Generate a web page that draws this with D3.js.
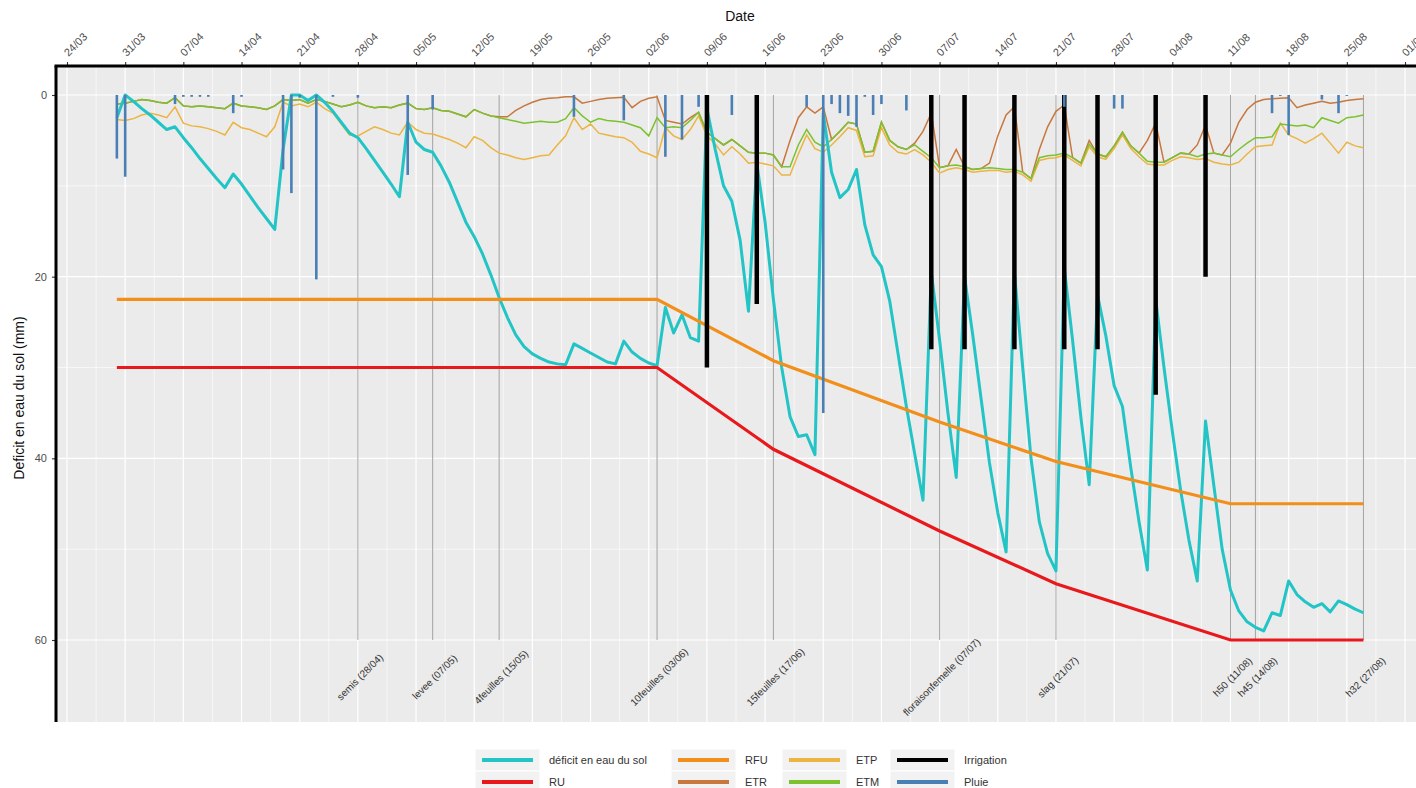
<!DOCTYPE html>
<html>
<head>
<meta charset="utf-8">
<script src="https://cdn.jsdelivr.net/npm/d3@7"></script>
<style>
  body { margin: 0; background: #fff; overflow: hidden; }
  svg { display: block; font-family: "Liberation Sans", Arial, sans-serif; }
</style>
</head>
<body>
<svg id="chart" width="1416" height="788"></svg>
<script>
// daily series start on this day (one value per day)
const firstDay = "30/03";

const deficit = [
  2.5, 0, 0.7, 1.5, 2.2, 3.0, 3.8, 3.5, 4.7, 5.8,
  7.0, 8.1, 9.2, 10.2, 8.7, 9.8, 11.1, 12.4, 13.6, 14.8,
  6.0, 0, 0, 0.6, 0, 0.8, 1.8, 3.0, 4.2, 4.7,
  5.9, 7.2, 8.5, 9.8, 11.2, 3.0, 5.2, 6.0, 6.3, 7.8,
  9.6, 11.8, 14.0, 15.6, 17.5, 19.8, 22.3, 24.5, 26.4, 27.7,
  28.5, 29.0, 29.4, 29.6, 29.7, 27.4, 27.9, 28.4, 28.9, 29.4,
  29.6, 27.1, 28.3, 29.0, 29.5, 29.8, 23.4, 26.2, 24.2, 26.7,
  27.1, 1.5, 6.0, 10.0, 11.7, 16.0, 23.8, 7.5, 14.0, 22.5,
  30.0, 35.4, 37.6, 37.4, 39.6, 2.0, 8.5, 11.3, 10.4, 8.2,
  14.3, 17.6, 18.9, 22.7, 28.5, 34.3, 39.5, 44.6, 19.5, 27.0,
  35.0, 42.1, 20.0, 26.5, 33.5, 40.5, 46.0, 50.3, 19.5, 30.0,
  40.0, 47.0, 50.5, 52.4, 19.0, 27.0, 35.5, 42.9, 22.0, 26.5,
  32.0, 34.3, 41.0, 47.0, 52.3, 22.5, 30.0, 37.0, 43.5, 49.0,
  53.5, 35.9, 43.0, 50.0, 54.5, 56.8, 58.0, 58.6, 59.0, 57.0,
  57.3, 53.5, 55.0, 55.8, 56.4, 56.0, 56.9, 55.7, 56.1, 56.6,
  57.0
];

const etm = [
  1.0, 0.9, 0.7, 0.5, 0.6, 0.8, 0.9, 0.3, 1.2, 1.3,
  1.2, 1.3, 1.4, 1.5, 0.9, 1.2, 1.3, 1.4, 1.6, 1.2,
  0.5, 0.6, 0.5, 0.9, 0.5, 0.7, 1.0, 1.3, 1.1, 0.8,
  1.2, 1.4, 1.3, 1.4, 1.1, 0.9, 1.5, 1.6, 1.4, 1.7,
  1.8, 2.1, 2.4, 1.6, 2.0, 2.3, 2.5, 2.7, 2.9, 3.1,
  3.0, 2.9, 3.0, 3.0, 2.6, 1.4, 2.3, 3.0, 2.6, 2.8,
  2.9, 3.0, 3.3, 3.6, 4.5, 2.5, 3.6, 3.5, 3.6, 2.8,
  1.9, 4.1, 4.8, 5.5, 4.9, 5.6, 6.3, 6.4, 6.4, 6.6,
  7.9, 7.9, 5.5, 3.8, 5.2, 5.7, 4.9, 4.0, 3.0, 3.2,
  6.3, 6.2, 3.0, 5.0, 5.7, 6.0, 5.5, 6.2, 6.9, 8.0,
  7.8, 7.7, 7.9, 8.2, 8.1, 8.0, 8.1, 8.2, 8.2, 8.5,
  9.2, 6.9, 6.7, 6.6, 6.4, 6.9, 7.5, 5.4, 6.5, 6.8,
  5.6, 4.1, 5.6, 6.4, 7.3, 7.4, 7.4, 6.9, 6.4, 6.5,
  6.8, 6.5, 6.4, 6.6, 6.8, 6.0, 5.3, 4.7, 4.7, 4.6,
  3.2, 3.3, 3.4, 3.3, 3.6, 2.5, 2.8, 3.1, 2.5, 2.4,
  2.2
];

const etp = [
  2.7, 2.8, 2.6, 2.2, 2.0, 2.2, 2.5, 1.3, 3.1, 3.4,
  3.5, 3.7, 4.0, 4.4, 3.0, 3.6, 3.8, 4.2, 4.6, 3.5,
  0.8, 1.2, 1.0, 1.3, 0.8, 1.5, 2.0, 3.2, 4.4, 4.5,
  4.0, 3.5, 3.8, 4.2, 4.4, 3.0, 3.8, 4.2, 4.3, 4.6,
  4.9, 5.3, 5.8, 4.6, 5.0, 5.8, 6.4, 6.6, 6.9, 7.1,
  6.9, 6.7, 6.6, 5.5, 4.5, 2.5, 3.8, 3.2, 4.2, 4.4,
  4.6, 4.7, 5.2, 6.2, 6.5, 6.9, 3.6, 4.5, 4.9, 3.8,
  2.3, 4.5, 5.4, 6.6, 5.7, 6.5, 7.5, 7.4, 7.6, 7.8,
  8.8, 8.8, 6.5, 4.4, 5.9, 6.3, 5.5, 4.6, 3.6, 3.9,
  6.8, 6.7, 3.6, 5.5, 6.3, 6.5, 6.0, 6.6, 7.4, 8.6,
  8.2, 8.0, 8.2, 8.5, 8.4, 8.3, 8.3, 8.5, 8.4, 8.8,
  9.5, 7.2, 7.0, 6.9, 6.6, 7.2, 7.8, 5.7, 6.8, 7.1,
  5.9, 4.4, 5.9, 6.8, 7.6, 7.7, 7.7, 7.2, 6.8, 6.9,
  7.1, 7.0, 7.4, 7.6, 7.7, 7.4, 6.5, 5.7, 5.6, 5.5,
  3.1, 4.4, 4.8, 5.3, 4.8, 4.2, 5.3, 6.4, 5.2, 5.6,
  5.8
];

const etr = [
  1.0, 0.9, 0.7, 0.5, 0.6, 0.8, 0.9, 0.3, 1.2, 1.3,
  1.2, 1.3, 1.4, 1.5, 0.9, 1.2, 1.3, 1.4, 1.6, 1.2,
  0.5, 0.6, 0.5, 0.9, 0.5, 0.7, 1.0, 1.3, 1.1, 0.8,
  1.2, 1.4, 1.3, 1.4, 1.1, 0.9, 1.5, 1.6, 1.4, 1.7,
  1.8, 2.1, 2.4, 1.6, 2.0, 2.3, 2.4, 2.4, 1.7, 1.2,
  0.8, 0.5, 0.35, 0.3, 0.2, 0.2, 0.9, 0.7, 0.5, 0.35,
  0.3, 0.25, 1.4, 0.7, 0.35, 0.2, 2.8, 3.0, 3.2, 2.5,
  1.9, 4.1, 4.8, 5.5, 4.9, 5.6, 6.3, 6.4, 6.4, 6.6,
  7.9, 5.0, 2.5, 1.3, 2.0, 1.3, 4.9, 4.0, 3.0, 3.2,
  6.3, 6.2, 3.0, 5.0, 5.7, 6.0, 5.3, 4.0, 2.0, 8.0,
  7.8, 6.0, 7.9, 8.2, 8.1, 7.5, 4.5, 2.2, 1.3, 8.5,
  9.2, 6.0, 3.5, 1.8, 1.1, 6.9, 7.5, 5.0, 6.5, 6.8,
  5.6, 4.1, 5.6, 6.4, 5.0, 3.1, 7.4, 6.9, 6.4, 6.5,
  5.5, 3.3, 6.4, 6.6, 5.3, 3.0, 1.6, 0.8, 0.5, 0.4,
  0.35, 0.3, 1.4, 1.1, 0.9, 0.7, 0.9, 0.8, 0.6, 0.5,
  0.4
];

// RU / RFU at the stage dates
const ruDates = ["30/03", "03/06", "17/06", "07/07", "21/07", "11/08", "27/08"];
const ruValues = [30, 30, 39, 48, 53.8, 60, 60];
const rfuValues = [22.5, 22.5, 29.25, 36, 40.35, 45, 45];

const irrigationDates = ["09/06", "15/06", "06/07", "10/07", "16/07", "22/07", "26/07", "02/08", "08/08"];
const irrigationValues = [30, 23, 28, 28, 28, 28, 28, 33, 20];

const rainDates = [
  "30/03", "31/03", "06/04", "07/04", "08/04", "09/04", "10/04", "13/04", "14/04", "19/04",
  "20/04", "21/04", "23/04", "25/04", "28/04", "04/05", "07/05", "24/05", "30/05", "04/06",
  "06/06", "08/06", "12/06", "21/06", "23/06", "24/06", "25/06", "26/06", "27/06", "28/06",
  "29/06", "30/06", "03/07", "22/07", "28/07", "29/07", "16/08", "17/08", "18/08", "22/08",
  "24/08", "25/08"
];
const rainValues = [
  7, 9, 1.0, 0.2, 0.2, 0.2, 0.2, 2.0, 0.2, 8.2,
  10.8, 0.3, 20.3, 0.2, 0.3, 8.8, 1.6, 2.4, 2.8, 6.8,
  4.9, 1.3, 2.2, 1.3, 35, 1.0, 2.0, 2.3, 3.5, 0.2,
  2.2, 1.0, 1.7, 1.3, 1.5, 1.5, 2.0, 0.1, 4.4, 0.5,
  2.0, 0.1
];

const stageNames = ["semis (28/04)", "levee (07/05)", "4feuilles (15/05)", "10feuilles (03/06)",
  "15feuilles (17/06)", "floraisonfemelle (07/07)", "slag (21/07)", "h50 (11/08)", "h45 (14/08)", "h32 (27/08)"];
const stageDates = ["28/04", "07/05", "15/05", "03/06", "17/06", "07/07", "21/07", "11/08", "14/08", "27/08"];

const weekTicks = ["24/03", "31/03", "07/04", "14/04", "21/04", "28/04", "05/05", "12/05", "19/05", "26/05",
  "02/06", "09/06", "16/06", "23/06", "30/06", "07/07", "14/07", "21/07", "28/07", "04/08",
  "11/08", "18/08", "25/08", "01/09"];
const yTicks = [0, 20, 40, 60];
const yMinor = [10, 30, 50];

const legendCols = [
  [{ label: "déficit en eau du sol", color: "#22c4c6" }, { label: "RU", color: "#e8191c" }],
  [{ label: "RFU", color: "#f28f1a" }, { label: "ETR", color: "#c8773d" }],
  [{ label: "ETP", color: "#ecb443" }, { label: "ETM", color: "#7cc22e" }],
  [{ label: "Irrigation", color: "#000000" }, { label: "Pluie", color: "#4a7fb5" }]
];

const parseDay = s => d3.utcParse("%d/%m/%Y")(s + "/2014");
const dayDates = deficit.map((_, i) => d3.utcDay.offset(parseDay(firstDay), i));

const svg = d3.select("#chart");
const panel = { left: 56, right: 1424, top: 66, bottom: 722 };

const x = d3.scaleUtc()
  .domain([parseDay("24/03"), parseDay("01/09")])
  .range([67, 1405]);
const y = d3.scaleLinear().domain([0, 60]).range([95, 640]);

svg.append("defs").append("clipPath").attr("id", "clip")
  .append("rect")
  .attr("x", panel.left).attr("y", panel.top)
  .attr("width", panel.right - panel.left).attr("height", panel.bottom - panel.top);

svg.append("rect")
  .attr("x", panel.left).attr("y", panel.top)
  .attr("width", panel.right - panel.left).attr("height", panel.bottom - panel.top)
  .attr("fill", "#ebebeb");

const grid = svg.append("g").attr("clip-path", "url(#clip)");
const weekDates = weekTicks.map(parseDay);

// minor grid
grid.selectAll(".hminor").data(yMinor).enter().append("line")
  .attr("x1", panel.left).attr("x2", panel.right)
  .attr("y1", d => y(d)).attr("y2", d => y(d))
  .attr("stroke", "#fff").attr("stroke-width", 0.6);
grid.selectAll(".vminor").data(weekDates.slice(1)).enter().append("line")
  .attr("x1", (d, i) => (x(d) + x(weekDates[i])) / 2)
  .attr("x2", (d, i) => (x(d) + x(weekDates[i])) / 2)
  .attr("y1", panel.top).attr("y2", panel.bottom)
  .attr("stroke", "#fff").attr("stroke-width", 0.6);
// major grid
grid.selectAll(".hmajor").data(yTicks).enter().append("line")
  .attr("x1", panel.left).attr("x2", panel.right)
  .attr("y1", d => y(d)).attr("y2", d => y(d))
  .attr("stroke", "#fff").attr("stroke-width", 1.2);
grid.selectAll(".vmajor").data(weekDates).enter().append("line")
  .attr("x1", d => x(d)).attr("x2", d => x(d))
  .attr("y1", panel.top).attr("y2", panel.bottom)
  .attr("stroke", "#fff").attr("stroke-width", 1.2);

// stage markers
const stages = stageNames.map((name, i) => ({ name, date: parseDay(stageDates[i]) }));
grid.selectAll(".stage").data(stages).enter().append("line")
  .attr("x1", d => x(d.date)).attr("x2", d => x(d.date))
  .attr("y1", y(0)).attr("y2", y(60))
  .attr("stroke", "#a3a3a3").attr("stroke-width", 1);
grid.selectAll(".stageLabel").data(stages).enter().append("text")
  .attr("transform", d => `translate(${x(d.date) + 2},${677}) rotate(-45)`)
  .attr("text-anchor", "middle")
  .attr("dy", "0.35em")
  .attr("font-size", 10)
  .attr("fill", "#333")
  .text(d => d.name);

const line = d3.line().x((d, i) => x(dayDates[i])).y(d => y(d));
const plot = svg.append("g").attr("clip-path", "url(#clip)");

plot.append("path").datum(etp).attr("d", line)
  .attr("fill", "none").attr("stroke", "#ecb443").attr("stroke-width", 1.5);
plot.append("path").datum(etr).attr("d", line)
  .attr("fill", "none").attr("stroke", "#c8773d").attr("stroke-width", 1.5);
plot.append("path").datum(etm).attr("d", line)
  .attr("fill", "none").attr("stroke", "#7cc22e").attr("stroke-width", 1.5);

plot.append("path").datum(deficit).attr("d", line)
  .attr("fill", "none").attr("stroke", "#22c4c6").attr("stroke-width", 3)
  .attr("stroke-linejoin", "round");

const stageLine = d3.line().x((d, i) => x(parseDay(ruDates[i]))).y(d => y(d));
plot.append("path").datum(ruValues).attr("d", stageLine)
  .attr("fill", "none").attr("stroke", "#e8191c").attr("stroke-width", 3.2);
plot.append("path").datum(rfuValues).attr("d", stageLine)
  .attr("fill", "none").attr("stroke", "#f28f1a").attr("stroke-width", 3.2);

// irrigation & rain bars from 0 downwards
plot.selectAll(".irr").data(irrigationValues).enter().append("line")
  .attr("x1", (d, i) => x(parseDay(irrigationDates[i])))
  .attr("x2", (d, i) => x(parseDay(irrigationDates[i])))
  .attr("y1", y(0)).attr("y2", d => y(d))
  .attr("stroke", "#000").attr("stroke-width", 4.5);
plot.selectAll(".rain").data(rainValues).enter().append("line")
  .attr("x1", (d, i) => x(parseDay(rainDates[i])))
  .attr("x2", (d, i) => x(parseDay(rainDates[i])))
  .attr("y1", y(0)).attr("y2", d => y(d))
  .attr("stroke", "#4a7fb5").attr("stroke-width", 2.6);

// top axis
const xAxis = svg.append("g").attr("transform", `translate(0,${panel.top})`)
  .call(d3.axisTop(x).tickValues(weekDates).tickFormat(d3.utcFormat("%d/%m")).tickSize(4));
xAxis.select(".domain").remove();
xAxis.selectAll(".tick line").attr("stroke", "#333").attr("stroke-width", 1.1);
xAxis.selectAll(".tick text")
  .attr("y", 0).attr("dy", 0)
  .attr("transform", "translate(1,-9) rotate(-45)")
  .attr("text-anchor", "start")
  .attr("font-size", 11)
  .attr("font-family", "Liberation Sans, Arial, sans-serif")
  .attr("fill", "#4d4d4d");

// left axis
const yAxis = svg.append("g").attr("transform", `translate(${panel.left},0)`)
  .call(d3.axisLeft(y).tickValues(yTicks).tickSize(4).tickPadding(5));
yAxis.select(".domain").remove();
yAxis.selectAll(".tick line").attr("stroke", "#333").attr("stroke-width", 1.1);
yAxis.selectAll(".tick text")
  .attr("font-size", 11)
  .attr("font-family", "Liberation Sans, Arial, sans-serif")
  .attr("fill", "#4d4d4d");

svg.append("line")
  .attr("x1", panel.left - 1.5).attr("x2", panel.right)
  .attr("y1", panel.top).attr("y2", panel.top)
  .attr("stroke", "#000").attr("stroke-width", 3);
svg.append("line")
  .attr("x1", panel.left).attr("x2", panel.left)
  .attr("y1", panel.top).attr("y2", panel.bottom)
  .attr("stroke", "#000").attr("stroke-width", 3);

svg.append("text")
  .attr("x", (panel.left + panel.right) / 2).attr("y", 21)
  .attr("text-anchor", "middle").attr("font-size", 14).attr("fill", "#111")
  .text("Date");
svg.append("text")
  .attr("transform", `translate(24,${(panel.top + panel.bottom) / 2 + 4}) rotate(-90)`)
  .attr("text-anchor", "middle").attr("font-size", 14).attr("fill", "#111")
  .text("Deficit en eau du sol (mm)");

// legend
const colX = [475, 671, 782, 890];
const rowY = [749, 771];
const legend = svg.append("g");
legendCols.forEach((col, c) => {
  col.forEach((item, r) => {
    const g = legend.append("g").attr("transform", `translate(${colX[c]},${rowY[r]})`);
    g.append("rect").attr("width", 65).attr("height", 22)
      .attr("fill", "#f2f2f2").attr("stroke", "#fff").attr("stroke-width", 1);
    g.append("line").attr("x1", 7).attr("x2", 58).attr("y1", 11).attr("y2", 11)
      .attr("stroke", item.color).attr("stroke-width", 4);
    g.append("text").attr("x", 74).attr("y", 11).attr("dy", "0.35em")
      .attr("font-size", 11).attr("fill", "#333").text(item.label);
  });
});
</script>
</body>
</html>
